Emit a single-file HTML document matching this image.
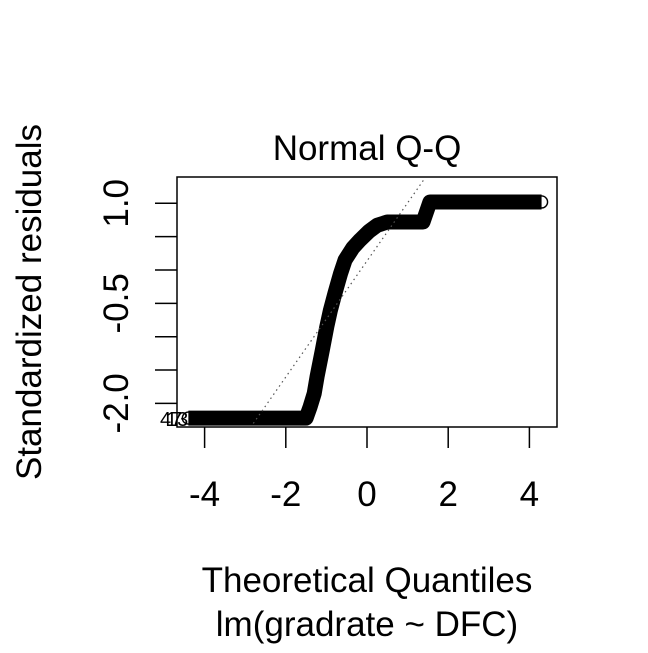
<!DOCTYPE html>
<html><head><meta charset="utf-8"><style>body{margin:0;background:#fff}svg text{font-family:"Liberation Sans",sans-serif;fill:#000}</style></head>
<body>
<svg id="chart" width="648" height="648" xmlns="http://www.w3.org/2000/svg">
<rect width="648" height="648" fill="#fff"/>
<g id="points"></g>
<line id="qqline" stroke="#555" stroke-width="1.2" stroke-dasharray="1.5,3.5"/>
<rect x="177" y="177" width="380" height="250" fill="none" stroke="#000" stroke-width="1.5"/>
<g id="axes"></g>
<text x="367" y="160" font-size="35" text-anchor="middle">Normal Q-Q</text>
<text x="367" y="592" font-size="35" text-anchor="middle">Theoretical Quantiles</text>
<text x="367" y="636" font-size="35" text-anchor="middle">lm(gradrate ~ DFC)</text>
<text transform="translate(41,302) rotate(-90)" font-size="35" text-anchor="middle">Standardized residuals</text>
<text x="160" y="426" font-size="20">47</text>
<text x="166" y="426" font-size="20">13</text>
</svg>
<script>
const xTicks=[-4,-2,0,2,4];
const yTicks=[1.0,0.5,0,-0.5,-1.0,-1.5,-2.0];
const yTickLabels=["1.0","","","-0.5","","","-2.0"];
const theoQ=[-4.4,-4.0,-3.5,-3.0,-2.5,-2.0,-1.5,-1.4,-1.35,-1.3,-1.23,-1.1,-0.99,-0.9,-0.79,-0.65,-0.54,-0.35,-0.17,0.05,0.25,0.5,0.8,1.1,1.38,1.55,2.0,2.5,3.0,3.5,4.0,4.3];
const resid=[-2.22,-2.22,-2.22,-2.22,-2.22,-2.22,-2.22,-2.05,-1.95,-1.85,-1.6,-1.2,-0.85,-0.6,-0.35,-0.05,0.15,0.33,0.45,0.58,0.67,0.72,0.72,0.72,0.72,1.02,1.02,1.02,1.02,1.02,1.02,1.02];
const lineIntercept=0.136, lineSlope=0.87;
const sx=v=>367+v*40.6, sy=v=>270-v*66.7;
const NS="http://www.w3.org/2000/svg";
const svg=document.getElementById('chart'),g=document.getElementById('points'),ax=document.getElementById('axes');
function mk(t,a,p){const e=document.createElementNS(NS,t);for(const k in a)e.setAttribute(k,a[k]);p.appendChild(e);return e;}
let d=theoQ.map((x,i)=>(i?'L':'M')+sx(x)+','+sy(resid[i])).join(' ');
const path=mk('path',{d:d,fill:'none',stroke:'#000','stroke-width':15,'stroke-linejoin':'round'},g);


theoQ.forEach((x,i)=>{const c=mk('circle',{cx:sx(x),cy:sy(resid[i]),r:6,fill:'none',stroke:'#000','stroke-width':1.4},g);

});
const ql=document.getElementById('qqline');
const x0=-2.8,x1=1.43;
ql.setAttribute('x1',sx(x0));ql.setAttribute('y1',Math.min(427,sy(lineIntercept+lineSlope*x0)));
ql.setAttribute('x2',sx(x1));ql.setAttribute('y2',Math.max(177,sy(lineIntercept+lineSlope*x1)));
xTicks.forEach(v=>{const l=mk('line',{x1:sx(v),x2:sx(v),y1:427,y2:448,stroke:'#000','stroke-width':1.5},ax);


const t=mk('text',{x:sx(v),y:506,'font-size':35,'text-anchor':'middle'},ax);t.textContent=v;

});
yTicks.forEach((v,i)=>{const l=mk('line',{x1:155,x2:177,y1:sy(v),y2:sy(v),stroke:'#000','stroke-width':1.5},ax);


if(yTickLabels[i]){const t=mk('text',{transform:`translate(128,${sy(v)}) rotate(-90)`,'font-size':35,'text-anchor':'middle'},ax);t.textContent=yTickLabels[i];

}});
</script>
</body></html>
